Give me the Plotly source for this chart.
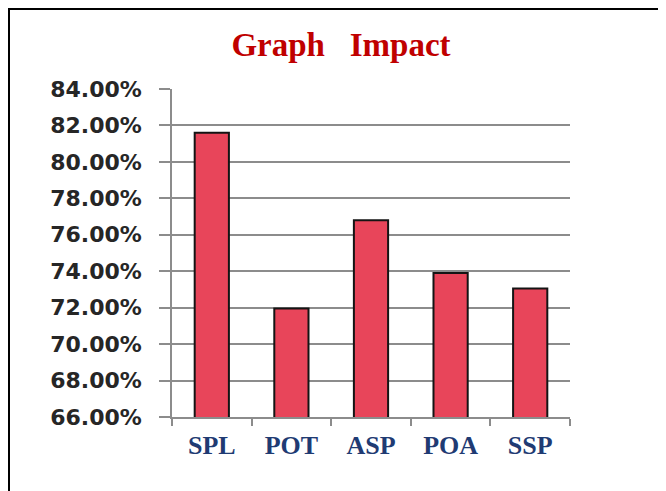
import plotly.graph_objects as go

categories = ["SPL", "POT", "ASP", "POA", "SSP"]
values = [0.816, 0.7195, 0.768, 0.739, 0.7305]
y_ticks = [0.66, 0.68, 0.70, 0.72, 0.74, 0.76, 0.78, 0.80, 0.82, 0.84]
title_text = "Graph\u00a0\u00a0\u00a0Impact"

# page has an 8px body margin, so the figure is drawn 8px smaller
OFF = 8
W, H = 666 - OFF, 491 - OFF
ML, MR, MT, MB = 172 - OFF, 96, 89 - OFF, 74
PW, PH = W - ML - MR, H - MT - MB

def px_x(p):
    return (p - OFF - ML) / PW

def px_y(p):
    return (H - MB - (p - OFF)) / PH

fig = go.Figure(
    go.Bar(
        x=categories,
        y=values,
        marker=dict(color="#E8455A", line=dict(color="#141414", width=2)),
    )
)

grid = "#8C8C8C"
fig.update_layout(
    width=W,
    height=H,
    margin=dict(l=ML, r=MR, t=MT, b=MB),
    paper_bgcolor="white",
    plot_bgcolor="white",
    bargap=0.57,
    showlegend=False,
    title=dict(
        text=title_text,
        x=(341 - OFF) / W,
        xanchor="center",
        xref="container",
        yref="container",
        y=1 - (44 - OFF) / H,
        yanchor="middle",
        font=dict(family="Liberation Serif", size=33, color="#C00000", weight="bold"),
    ),
    xaxis=dict(
        type="category",
        showline=True,
        linecolor=grid,
        linewidth=1.5,
        ticks="outside",
        tickson="boundaries",
        ticklen=7,
        tickcolor=grid,
        tickwidth=1.5,
        showgrid=False,
        ticklabelstandoff=4,
        tickfont=dict(family="Liberation Serif", size=26, color="#1F3B73", weight="bold"),
    ),
    yaxis=dict(
        range=[0.66, 0.84],
        tickvals=y_ticks,
        tickformat=".2%",
        showline=True,
        linecolor=grid,
        linewidth=1.5,
        ticks="outside",
        ticklen=11,
        tickcolor=grid,
        tickwidth=1.5,
        showgrid=True,
        gridcolor=grid,
        gridwidth=1.5,
        zeroline=False,
        ticklabelstandoff=13,
        tickfont=dict(family="DejaVu Sans", size=22, color="#262626", weight="bold"),
    ),
    shapes=[
        dict(type="line", xref="paper", yref="paper",
             x0=px_x(8), x1=px_x(700), y0=px_y(8.5), y1=px_y(8.5),
             line=dict(color="black", width=3)),
        dict(type="line", xref="paper", yref="paper",
             x0=px_x(8.5), x1=px_x(8.5), y0=px_y(8), y1=px_y(520),
             line=dict(color="black", width=3)),
    ],
)

fig.write_html("out.html")
